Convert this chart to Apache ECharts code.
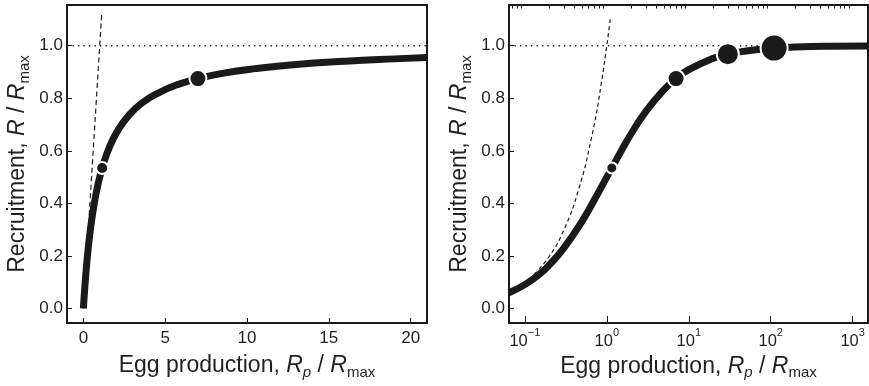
<!DOCTYPE html>
<html><head><meta charset="utf-8">
<script src="https://cdn.jsdelivr.net/npm/echarts@6/dist/echarts.min.js"></script>
<style>html,body{margin:0;padding:0;background:#fff}#c{width:869px;height:386px}</style>
</head><body><div id="c"></div>
<script>
// ---------- data ----------
const leftCurveX = [0, 0.03, 0.07, 0.12, 0.2, 0.3, 0.45, 0.65, 0.9, 1.2, 1.6, 2.1, 2.8, 3.6, 4.6, 5.8, 7, 8.5, 10.5, 13, 16, 19, 21];
const leftCurveY = [0, 0.029, 0.065, 0.107, 0.167, 0.231, 0.310, 0.394, 0.474, 0.545, 0.615, 0.677, 0.737, 0.783, 0.821, 0.853, 0.875, 0.895, 0.913, 0.929, 0.941, 0.950, 0.955];
const leftDashX = [0, 1.13];
const leftDashY = [0, 1.13];
const leftPointX = [1.15, 7];
const leftPointY = [0.535, 0.875];

const rightCurveX = [0.064, 0.1, 0.15, 0.2, 0.3, 0.5, 0.7, 1, 1.5, 2, 3, 5, 7, 10, 20, 30, 50, 100, 200, 500, 1540];
const rightCurveY = [0.060, 0.091, 0.130, 0.167, 0.231, 0.333, 0.412, 0.500, 0.600, 0.667, 0.750, 0.833, 0.875, 0.909, 0.952, 0.968, 0.980, 0.990, 0.995, 0.998, 0.999];
const rightDashX = [0.13, 0.2, 0.3, 0.45, 0.65, 0.85, 1.1];
const rightDashY = [0.13, 0.2, 0.3, 0.45, 0.65, 0.85, 1.1];
const rightPointX = [1.15, 7, 30, 110];
const rightPointY = [0.535, 0.875, 0.968, 0.991];

const refLevel = 1.0;
const yTicks = [0, 0.2, 0.4, 0.6, 0.8, 1.0];
const leftXTicks = [0, 5, 10, 15, 20];
const rightXTicks = [0.1, 1, 10, 100, 1000];
const rightXMinorTicks = [0.07, 0.08, 0.09, 0.2, 0.3, 0.4, 0.5, 0.6, 0.7, 0.8, 0.9, 2, 3, 4, 5, 6, 7, 8, 9, 20, 30, 40, 50, 60, 70, 80, 90, 200, 300, 400, 500, 600, 700, 800, 900];

// ---------- styles ----------
const INK = '#1a1a1a';
const TXT = '#231f20';
const FONT = '"Liberation Sans", Arial, Helvetica, sans-serif';
const leftMarkerSizes = [12, 17];
const rightMarkerSizes = [11, 17, 22, 27];

const zip = (a, b) => a.map((v, i) => [v, b[i]]);

const nameRich = {
  n: {fontSize: 23, fontFamily: FONT, color: TXT, lineHeight: 28},
  i: {fontSize: 23, fontFamily: FONT, color: TXT, fontStyle: 'italic', lineHeight: 28},
  s: {fontSize: 15, fontFamily: FONT, color: TXT, lineHeight: 16, verticalAlign: 'bottom'},
  si: {fontSize: 15, fontFamily: FONT, color: TXT, fontStyle: 'italic', lineHeight: 16, verticalAlign: 'bottom'}
};
const yName = '{n|Recruitment, }{i|R}{n| / }{i|R}{s|max}';
const xName = '{n|Egg production, }{i|R}{si|p}{n| / }{i|R}{s|max}';

function yAxis(gi) {
  return {
    type: 'value', gridIndex: gi, min: -0.055, max: 1.155,
    name: yName, nameLocation: 'middle', nameGap: 35,
    nameTextStyle: {rich: nameRich},
    axisLine: {show: true, onZero: false, lineStyle: {color: INK, width: 2}},
    axisTick: {show: true, inside: true, length: 5, lineStyle: {color: INK, width: 1}, customValues: yTicks},
    axisLabel: {show: true, margin: 4, fontSize: 17, fontFamily: FONT, color: TXT, customValues: yTicks,
      formatter: v => v.toFixed(1)},
    splitLine: {show: false}
  };
}

const option = {
  animation: false,
  backgroundColor: '#fff',
  grid: [
    {left: 67, top: 5, width: 360, height: 318, show: true, borderColor: INK, borderWidth: 2, containLabel: false},
    {left: 509, top: 5, width: 359, height: 318, show: true, borderColor: INK, borderWidth: 2, containLabel: false}
  ],
  xAxis: [
    {
      type: 'value', gridIndex: 0, min: -1, max: 21,
      name: xName, nameLocation: 'middle', nameGap: 29,
      nameTextStyle: {rich: nameRich},
      axisLine: {show: true, onZero: false, lineStyle: {color: INK, width: 2}},
      axisTick: {show: true, inside: true, length: 5, lineStyle: {color: INK, width: 1}, customValues: leftXTicks},
      axisLabel: {show: true, margin: 7, fontSize: 17, fontFamily: FONT, color: TXT, customValues: leftXTicks},
      splitLine: {show: false}
    },
    {
      type: 'log', logBase: 10, gridIndex: 1, min: 0.064, max: 1540,
      name: xName, nameLocation: 'middle', nameGap: 29,
      nameTextStyle: {rich: nameRich},
      axisLine: {show: true, onZero: false, lineStyle: {color: INK, width: 2}},
      axisTick: {show: true, inside: true, length: 7, lineStyle: {color: INK, width: 1}, customValues: rightXTicks},
      axisLabel: {show: true, margin: 4, customValues: rightXTicks,
        formatter: v => {
          const e = Math.round(Math.log10(v));
          return '{b|10}{e|' + (e < 0 ? '\u2212' + (-e) : e) + '}';
        },
        rich: {
          b: {fontSize: 16.5, fontFamily: FONT, color: TXT, lineHeight: 23, verticalAlign: 'bottom'},
          e: {fontSize: 11, fontFamily: FONT, color: TXT, lineHeight: 12, verticalAlign: 'top'}
        }
      },
      splitLine: {show: false}
    },
    {
      type: 'log', logBase: 10, gridIndex: 1, min: 0.064, max: 1540,
      axisLine: {show: false, onZero: false},
      axisTick: {show: true, inside: true, length: 3.5, lineStyle: {color: INK, width: 1}, customValues: rightXMinorTicks},
      axisLabel: {show: false},
      splitLine: {show: false}
    }
  ],
  yAxis: [yAxis(0), yAxis(1)],
  series: [
    // left panel
    {type: 'line', xAxisIndex: 0, yAxisIndex: 0, data: [[-1, refLevel], [21, refLevel]], symbol: 'none',
      lineStyle: {color: INK, width: 1.3, type: [1.3, 4.2]}, z: 1, silent: true},
    {type: 'line', xAxisIndex: 0, yAxisIndex: 0, data: zip(leftDashX, leftDashY), symbol: 'none',
      lineStyle: {color: INK, width: 1.2, type: [5, 3.5]}, z: 2, silent: true},
    {type: 'line', xAxisIndex: 0, yAxisIndex: 0, data: zip(leftCurveX, leftCurveY), symbol: 'none',
      smooth: 0.5, lineStyle: {color: INK, width: 7, cap: 'butt'}, z: 3, silent: true},
    {type: 'scatter', xAxisIndex: 0, yAxisIndex: 0, data: zip(leftPointX, leftPointY),
      symbolSize: (v, p) => leftMarkerSizes[p.dataIndex],
      itemStyle: {color: INK, borderColor: '#fff', borderWidth: 2, opacity: 1}, z: 4, silent: true},
    // right panel
    {type: 'line', xAxisIndex: 1, yAxisIndex: 1, data: [[0.064, refLevel], [1540, refLevel]], symbol: 'none',
      lineStyle: {color: INK, width: 1.3, type: [1.3, 4.2]}, z: 1, silent: true},
    {type: 'line', xAxisIndex: 1, yAxisIndex: 1, data: zip(rightDashX, rightDashY), symbol: 'none',
      smooth: 0.5, lineStyle: {color: INK, width: 1.2, type: [4, 3]}, z: 2, silent: true},
    {type: 'line', xAxisIndex: 1, yAxisIndex: 1, data: zip(rightCurveX, rightCurveY), symbol: 'none',
      smooth: 0.5, lineStyle: {color: INK, width: 7, cap: 'butt'}, z: 3, silent: true},
    {type: 'scatter', xAxisIndex: 1, yAxisIndex: 1, data: zip(rightPointX, rightPointY),
      symbolSize: (v, p) => rightMarkerSizes[p.dataIndex],
      itemStyle: {color: INK, borderColor: '#fff', borderWidth: 2, opacity: 1}, z: 4, silent: true}
  ]
};

const chart = echarts.init(document.getElementById('c'), null, {renderer: 'canvas'});
chart.setOption(option);
</script></body></html>
